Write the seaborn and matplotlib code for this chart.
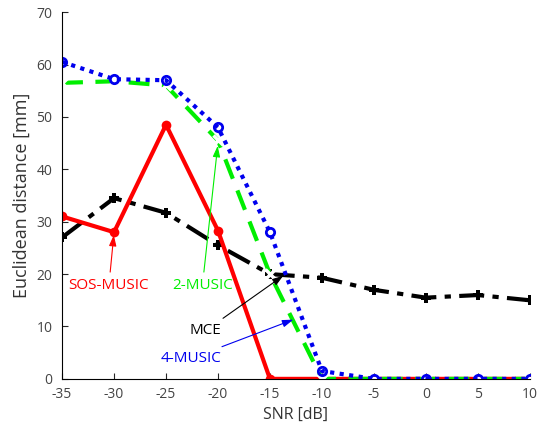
import numpy as np
import pandas as pd
import matplotlib.pyplot as plt
import seaborn as sb

snr = [-35, -30, -25, -20, -15, -10, -5, 0, 5, 10]
music4 = [60.5, 57.2, 57.0, 48.0, 28.0, 1.5, 0, 0, 0, 0]
music2 = [56.5, 56.8, 56.0, 45.5, 20.0, 0, 0, 0, 0, 0]
sos_music = [31.0, 28.0, 48.5, 28.3, 0, 0, 0, 0, 0, 0]
mce = [27.0, 34.5, 31.7, 25.5, 20.0, 19.3, 17.0, 15.5, 16.0, 15.0]

sb.set_style('white')
plt.rcParams['font.family'] = ['Open Sans', 'DejaVu Sans']
plt.rcParams['axes.unicode_minus'] = False

fig = plt.figure(figsize=(5.4, 4.33), dpi=100)
ax = fig.add_axes([0.115, 0.125, 0.866, 0.847])

sb.lineplot(x=snr, y=mce, ax=ax, color='black', linestyle=(0, (6, 2, 1.5, 2)),
            linewidth=3, marker='P', markersize=7, markeredgewidth=0)
sb.lineplot(x=snr, y=sos_music, ax=ax, color='red', linestyle='-',
            linewidth=3, marker='o', markersize=7, markeredgewidth=0)
sb.lineplot(x=snr, y=music2, ax=ax, color='#00ee00', linestyle=(0, (5, 3)),
            linewidth=3, marker='x', markersize=7, markeredgewidth=2.5)
sb.lineplot(x=snr, y=music4, ax=ax, color='#0000ee', linestyle=(0, (1, 1.3)),
            linewidth=3, marker='o', markersize=6, markerfacecolor='none',
            markeredgewidth=2, markeredgecolor='#0000ee')

ax.set_xlim(-35, 10)
ax.set_ylim(0, 70)
ax.set_xticks(snr)
ax.set_yticks(range(0, 71, 10))
ax.set_xlabel('SNR [dB]', fontsize=11.5, color='#333333', labelpad=3)
ax.set_ylabel('Euclidean distance [mm]', fontsize=13, color='#333333')
ax.tick_params(direction='in', length=4, labelsize=10, labelcolor='#444444',
               left=True, bottom=True)
ax.tick_params(axis='y', pad=7)
ax.tick_params(axis='x', pad=6)
for s in ['top', 'right']:
    ax.spines[s].set_visible(False)
for s in ['left', 'bottom']:
    ax.spines[s].set_color('black')
    ax.spines[s].set_linewidth(0.8)

arrow = dict(arrowstyle='-|>,head_length=0.6,head_width=0.2', lw=0.8)
ax.annotate('SOS-MUSIC', xy=(-30, 28), xytext=(-30.5, 17.8), color='red',
            fontsize=11, ha='center', va='center',
            arrowprops=dict(arrow, color='red'))
ax.annotate('2-MUSIC', xy=(-20, 45), xytext=(-21.5, 17.8), color='#00ee00',
            fontsize=11, ha='center', va='center',
            arrowprops=dict(arrow, color='#00ee00'))
ax.annotate('MCE', xy=(-13.5, 20), xytext=(-21.2, 9.2), color='black',
            fontsize=11, ha='center', va='center',
            arrowprops=dict(arrow, color='black'))
ax.annotate('4-MUSIC', xy=(-12.5, 11.5), xytext=(-22.6, 3.9), color='#0000ee',
            fontsize=11, ha='center', va='center',
            arrowprops=dict(arrow, color='#0000ee'))

fig.savefig('out.png', dpi=100)
